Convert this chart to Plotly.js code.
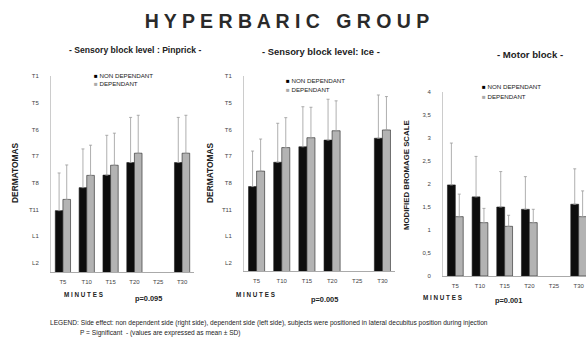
<!DOCTYPE html>
<html>
<head>
<meta charset="utf-8">
<script src="https://cdn.plot.ly/plotly-3.0.1.min.js"></script>
<style>
html,body{margin:0;padding:0;background:#fff;overflow:hidden;width:586px;height:339px;}
#chart{width:600px;height:339px;}
</style>
</head>
<body>
<div id="chart"></div>
<script>
// Categories (minutes)
const times = ["T5", "T10", "T15", "T20", "T25", "T30"];

// Dermatome tick labels (bottom to top) on a level scale 1..8
const dermTickVals = [1, 2, 3, 4, 5, 6, 7, 8];
const dermTickText = ["L2", "L1", "T11", "T8", "T7", "T6", "T5", "T1"];

// Sensory block level: Pinprick (level scale), mean and SD
const pinNonDep = [2.96, 3.82, 4.29, 4.76, null, 4.76];
const pinNonDepSD = [1.41, 1.45, 1.49, 1.69, null, 1.69];
const pinDep = [3.38, 4.28, 4.66, 5.11, null, 5.11];
const pinDepSD = [1.29, 1.13, 1.20, 1.42, null, 1.42];

// Sensory block level: Ice
const iceNonDep = [3.86, 4.77, 5.35, 5.60, null, 5.67];
const iceNonDepSD = [1.33, 1.46, 1.50, 1.53, null, 1.62];
const iceDep = [4.44, 5.32, 5.69, 5.95, null, 5.98];
const iceDepSD = [1.20, 1.12, 1.14, 1.12, null, 1.25];

// Motor block (modified Bromage scale)
const motNonDep = [1.98, 1.72, 1.50, 1.45, null, 1.56];
const motNonDepSD = [0.91, 0.88, 0.77, 0.71, null, 0.77];
const motDep = [1.29, 1.16, 1.08, 1.16, null, 1.29];
const motDepSD = [0.49, 0.31, 0.24, 0.29, null, 0.56];

const bromageTickVals = [0, 0.5, 1, 1.5, 2, 2.5, 3, 3.5, 4];
const bromageTickText = ["0", "0,5", "1", "1,5", "2", "2,5", "3", "3,5", "4"];

const pValues = ["p=0.095", "p=0.005", "p=0.001"];

const W = 600, H = 339;
const px = v => v / W;
const py = v => 1 - v / H;

function barTrace(x, y, sd, color, xa, ya, name) {
  return {
    type: "bar", x: x, y: y, name: name, xaxis: xa, yaxis: ya, showlegend: false,
    marker: {color: color, line: {color: "#222", width: 0.6}},
    error_y: {type: "data", symmetric: false, array: sd, arrayminus: sd.map(() => 0),
      color: "#9a9a9a", thickness: 0.8, width: 1.5}
  };
}

const BLACK = "#0d0d0d", GREY = "#b3b3b3";
const data = [
  barTrace(times, pinNonDep, pinNonDepSD, BLACK, "x", "y", "NON DEPENDANT"),
  barTrace(times, pinDep, pinDepSD, GREY, "x", "y", "DEPENDANT"),
  barTrace(times, iceNonDep, iceNonDepSD, BLACK, "x2", "y2", "NON DEPENDANT"),
  barTrace(times, iceDep, iceDepSD, GREY, "x2", "y2", "DEPENDANT"),
  barTrace(times, motNonDep, motNonDepSD, BLACK, "x3", "y3", "NON DEPENDANT"),
  barTrace(times, motDep, motDepSD, GREY, "x3", "y3", "DEPENDANT")
];

const tickFont = {family: "Arial, Liberation Sans, sans-serif", size: 6, color: "#444"};
function xAxis(domain, anchor) {
  return {domain: domain, anchor: anchor, type: "category", showgrid: false, zeroline: false,
    showline: true, linecolor: "#aaa", linewidth: 1, ticks: "", tickfont: tickFont,
    ticklabelstandoff: 4, fixedrange: true};
}
function yAxis(domain, anchor, range, tv, tt) {
  return {domain: domain, anchor: anchor, range: range, showgrid: false, zeroline: false,
    showline: true, linecolor: "#ccc", linewidth: 1, ticks: "", tickvals: tv, ticktext: tt,
    tickfont: tickFont, ticklabelstandoff: 10, fixedrange: true};
}

const ann = [];
function addText(text, x, y, size, opts) {
  ann.push(Object.assign({xref: "paper", yref: "paper", x: px(x), y: py(y), text: text,
    showarrow: false, xanchor: "center", yanchor: "middle",
    font: {family: "Arial, Liberation Sans, sans-serif", size: size, color: "#222"}}, opts || {}));
}
// Subtitles
addText("<b>- Sensory block level : Pinprick -</b>", 135, 50, 8.6);
addText("<b>- Sensory block level: Ice -</b>", 321, 52, 9.4);
addText("<b>- Motor block -</b>", 530, 55, 9.6);
// Y axis titles
addText("<b>DERMATOMAS</b>", 15, 173, 8.4, {textangle: -90});
addText("<b>DERMATOMAS</b>", 210, 173, 8.4, {textangle: -90});
addText("<b>MODIFIED BROMAGE SCALE</b>", 407, 175, 7.8, {textangle: -90});
// X titles
addText("<b>M I N U T E S</b>", 83, 294, 6.3);
addText("<b>M I N U T E S</b>", 255, 294, 6.3);
addText("<b>M I N U T E S</b>", 442, 297, 6.3);
// p values
addText("<b>" + pValues[0] + "</b>", 148, 298, 7.4);
addText("<b>" + pValues[1] + "</b>", 324, 299, 7.4);
addText("<b>" + pValues[2] + "</b>", 508, 300, 7.4);
// Legends
function legend(x, y1, y2) {
  addText("<span style='color:#000'>■</span> NON DEPENDANT", x, y1, 6.2, {xanchor: "left"});
  addText("<span style='color:#aaa'>■</span> DEPENDANT", x, y2, 6.2, {xanchor: "left"});
}
legend(92, 75, 83);
legend(284, 80, 90);
legend(480, 87, 96);
// Footnote
addText("LEGEND: Side effect: non dependent side (right side), dependent side (left side), subjects were positioned in lateral decubitus position during injection",
  48, 323, 6.6, {xanchor: "left"});
addText("P = Significant  - (values are expressed as mean ± SD)", 78, 333, 6.6, {xanchor: "left"});

const layout = {
  width: W, height: H, margin: {l: 0, r: 0, t: 0, b: 0},
  paper_bgcolor: "#fff", plot_bgcolor: "#fff", showlegend: false,
  barmode: "group", bargap: 0.36, bargroupgap: 0,
  title: {text: "<b>H Y P E R B A R I C   G R O U P</b>", x: px(287), xanchor: "center",
    y: py(21), yanchor: "middle",
    font: {family: "Arial, Liberation Sans, sans-serif", size: 19.5, color: "#2a2a2a"}},
  xaxis: xAxis([px(51), px(194)], "y"),
  yaxis: yAxis([py(272), py(76)], "x", [0.663, 8.0], dermTickVals, dermTickText),
  xaxis2: xAxis([px(244), px(395)], "y2"),
  yaxis2: yAxis([py(271), py(76)], "x2", [0.70, 8.0], dermTickVals, dermTickText),
  xaxis3: xAxis([px(443), px(591)], "y3"),
  yaxis3: yAxis([py(276), py(92)], "x3", [0, 4], bromageTickVals, bromageTickText),
  annotations: ann
};

Plotly.newPlot("chart", data, layout, {staticPlot: true, displayModeBar: false});
</script>
</body>
</html>
